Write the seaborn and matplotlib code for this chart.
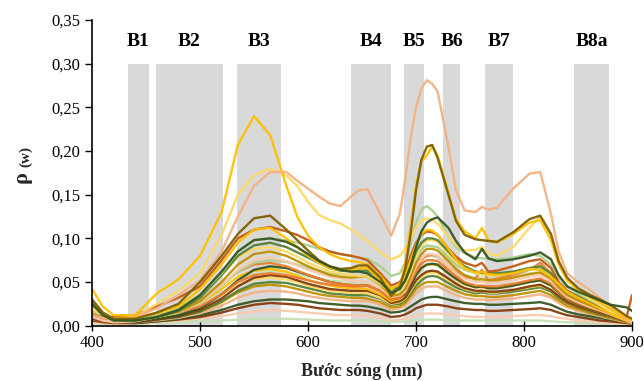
import numpy as np
import pandas as pd
import matplotlib
matplotlib.use("Agg")
import matplotlib.pyplot as plt
from matplotlib.ticker import FuncFormatter, MultipleLocator
import seaborn as sns

# Wavelength grid (nm) shared by every reflectance spectrum
wavelength = [400, 410, 420, 440, 460, 480, 500, 520, 535, 550,
              565, 580, 590, 600, 610, 620, 630, 640, 647, 655,
              667, 677, 685, 690, 695, 700, 705, 710, 715, 720,
              730, 737, 745, 755, 761, 767, 775, 790, 805, 815,
              825, 832, 840, 850, 860, 870, 880, 895, 900]

# Water-leaving reflectance spectra, one list per sampling station
s01 = [.003, .002, .002, .002, .003, .004, .005, .006, .007, .008,
       .008, .008, .0075, .007, .0065, .006, .006, .006, .006, .006,
       .005, .004, .0045, .005, .0055, .006, .007, .007, .007, .007,
       .006, .006, .006, .006, .006, .006, .006, .006, .006, .006,
       .005, .0045, .004, .0035, .003, .0025, .002, .001, .001]
s02 = [.004, .003, .002, .002, .004, .006, .008, .011, .014, .016,
       .018, .017, .016, .015, .014, .013, .012, .012, .012, .011,
       .009, .006, .007, .008, .010, .012, .013, .014, .014, .014,
       .013, .012, .011, .010, .010, .010, .010, .011, .012, .012,
       .011, .009, .008, .006, .005, .004, .003, .002, .001]
s03 = [.006, .004, .003, .003, .005, .007, .010, .015, .020, .024,
       .026, .025, .024, .022, .020, .019, .018, .018, .018, .017,
       .014, .010, .011, .013, .016, .020, .022, .024, .024, .024,
       .022, .020, .019, .018, .018, .017, .017, .018, .019, .020,
       .018, .015, .012, .010, .008, .006, .005, .003, .002]
s04 = [.022, .010, .004, .003, .005, .008, .012, .018, .024, .028,
       .030, .030, .029, .028, .026, .025, .024, .023, .023, .022,
       .019, .015, .016, .018, .022, .026, .030, .032, .033, .033,
       .030, .028, .026, .025, .025, .024, .024, .025, .026, .027,
       .024, .020, .016, .013, .011, .009, .007, .004, .003]
s05 = [.008, .005, .004, .004, .006, .009, .014, .023, .032, .038,
       .040, .039, .037, .034, .032, .030, .029, .028, .028, .028,
       .024, .018, .020, .023, .030, .037, .042, .045, .045, .045,
       .039, .035, .032, .030, .030, .029, .030, .031, .034, .036,
       .032, .026, .021, .017, .014, .011, .008, .004, .002]
s06 = [.010, .006, .004, .005, .008, .011, .016, .027, .038, .045,
       .047, .045, .042, .039, .036, .034, .033, .032, .032, .031,
       .027, .021, .022, .026, .034, .042, .047, .050, .050, .050,
       .044, .040, .036, .034, .034, .033, .033, .035, .038, .040,
       .035, .029, .023, .019, .015, .012, .009, .004, .003]
s07 = [.018, .009, .005, .004, .007, .010, .016, .028, .040, .048,
       .050, .049, .046, .043, .040, .037, .036, .035, .035, .035,
       .031, .024, .025, .029, .037, .046, .052, .056, .057, .056,
       .049, .044, .040, .037, .038, .037, .037, .039, .042, .044,
       .039, .032, .026, .021, .017, .013, .010, .005, .003]
s08 = [.012, .008, .006, .007, .011, .015, .022, .035, .047, .053,
       .055, .053, .050, .046, .043, .040, .039, .038, .038, .037,
       .032, .025, .027, .031, .040, .050, .056, .060, .061, .060,
       .052, .047, .042, .039, .040, .038, .038, .041, .044, .046,
       .041, .034, .027, .022, .018, .014, .011, .005, .003]
s09 = [.008, .005, .004, .004, .007, .011, .018, .031, .045, .055,
       .058, .056, .052, .048, .045, .042, .041, .040, .040, .040,
       .035, .026, .028, .032, .042, .052, .058, .062, .063, .062,
       .054, .048, .043, .040, .040, .039, .039, .041, .045, .047,
       .041, .034, .027, .022, .018, .014, .011, .005, .003]
s10 = [.016, .010, .007, .007, .010, .014, .022, .037, .050, .059,
       .062, .061, .059, .056, .054, .052, .051, .050, .050, .049,
       .044, .036, .039, .045, .057, .070, .077, .080, .080, .078,
       .068, .062, .058, .055, .055, .054, .055, .057, .060, .061,
       .054, .045, .036, .030, .024, .019, .014, .006, .004]
s11 = [.015, .009, .006, .007, .012, .017, .026, .042, .056, .063,
       .065, .062, .057, .052, .049, .046, .044, .043, .043, .042,
       .036, .028, .031, .036, .047, .058, .066, .070, .070, .069,
       .060, .053, .047, .044, .044, .043, .043, .046, .050, .052,
       .046, .038, .030, .025, .020, .016, .012, .006, .004]
s12 = [.020, .010, .005, .005, .008, .012, .020, .036, .052, .064,
       .068, .066, .062, .058, .054, .050, .048, .046, .046, .046,
       .040, .030, .032, .036, .046, .058, .066, .070, .071, .070,
       .060, .054, .048, .044, .045, .043, .043, .046, .050, .052,
       .046, .038, .030, .025, .020, .016, .012, .006, .004]
s13 = [.012, .008, .006, .006, .010, .015, .022, .036, .050, .058,
       .060, .058, .055, .052, .049, .047, .046, .045, .045, .046,
       .040, .030, .033, .038, .052, .066, .076, .080, .081, .080,
       .068, .061, .056, .054, .064, .052, .054, .058, .064, .072,
       .060, .046, .036, .030, .024, .019, .014, .006, .004]
s14 = [.014, .008, .006, .007, .012, .018, .028, .046, .062, .070,
       .072, .068, .063, .058, .054, .050, .048, .047, .046, .046,
       .040, .030, .032, .038, .050, .062, .071, .075, .075, .074,
       .064, .057, .050, .046, .046, .045, .045, .048, .052, .054,
       .048, .039, .031, .026, .021, .017, .013, .006, .004]
s15 = [.018, .010, .006, .006, .010, .015, .026, .045, .062, .072,
       .075, .073, .070, .066, .063, .060, .059, .058, .057, .057,
       .050, .040, .043, .050, .065, .080, .088, .092, .091, .090,
       .078, .070, .064, .060, .059, .058, .058, .060, .064, .066,
       .058, .047, .038, .031, .026, .021, .016, .007, .004]
s16 = [.010, .006, .004, .005, .010, .016, .027, .046, .064, .075,
       .078, .074, .069, .064, .060, .056, .054, .052, .051, .050,
       .043, .033, .035, .040, .054, .068, .077, .082, .082, .080,
       .068, .060, .054, .050, .050, .049, .050, .052, .056, .058,
       .051, .042, .033, .027, .022, .018, .013, .006, .004]
s17 = [.022, .012, .006, .006, .010, .016, .028, .050, .070, .082,
       .085, .080, .074, .068, .063, .058, .056, .055, .056, .056,
       .047, .034, .036, .042, .056, .072, .082, .088, .088, .086,
       .074, .065, .058, .053, .053, .052, .052, .055, .059, .061,
       .054, .044, .035, .029, .024, .019, .015, .007, .004]
s18 = [.020, .012, .008, .009, .015, .022, .035, .058, .078, .088,
       .090, .085, .079, .072, .067, .062, .060, .058, .057, .056,
       .048, .038, .041, .048, .063, .080, .091, .098, .098, .096,
       .082, .073, .066, .060, .059, .058, .058, .061, .066, .068,
       .060, .049, .040, .033, .027, .021, .016, .007, .004]
s19 = [.028, .014, .007, .006, .010, .017, .032, .058, .080, .092,
       .095, .090, .084, .078, .072, .066, .063, .062, .063, .063,
       .055, .042, .044, .052, .067, .085, .095, .100, .100, .098,
       .085, .076, .068, .062, .061, .060, .060, .062, .066, .068,
       .060, .049, .040, .034, .028, .022, .018, .008, .005]
s20 = [.030, .015, .008, .008, .012, .020, .035, .060, .085, .098,
       .100, .098, .095, .092, .088, .085, .082, .080, .078, .077,
       .068, .057, .060, .072, .095, .118, .133, .137, .132, .125,
       .102, .090, .083, .078, .077, .077, .076, .078, .082, .080,
       .070, .055, .045, .037, .030, .024, .018, .007, .004]
s21 = [.012, .010, .010, .012, .022, .032, .045, .075, .100, .110,
       .113, .108, .104, .098, .090, .085, .082, .080, .078, .075,
       .060, .046, .050, .060, .080, .095, .104, .108, .107, .104,
       .088, .079, .072, .068, .072, .062, .063, .068, .074, .076,
       .066, .050, .040, .032, .026, .020, .014, .010, .035]
s22 = [.020, .012, .008, .010, .025, .040, .060, .104, .150, .172,
       .180, .172, .160, .142, .127, .121, .117, .110, .104, .097,
       .084, .076, .080, .088, .100, .112, .120, .123, .121, .117,
       .102, .092, .086, .087, .090, .083, .080, .090, .112, .125,
       .100, .075, .052, .040, .031, .024, .016, .006, .004]
s23 = [.042, .022, .012, .012, .037, .053, .080, .130, .207, .240,
       .218, .160, .125, .103, .090, .082, .077, .074, .073, .070,
       .057, .042, .048, .058, .075, .092, .105, .110, .109, .104,
       .088, .076, .066, .061, .062, .059, .058, .060, .065, .064,
       .056, .048, .039, .032, .026, .020, .014, .006, .004]
s24 = [.012, .009, .008, .010, .020, .035, .052, .085, .125, .160,
       .176, .176, .166, .157, .148, .140, .137, .148, .155, .156,
       .128, .103, .128, .168, .215, .250, .272, .281, .277, .268,
       .205, .155, .132, .130, .136, .133, .135, .157, .174, .176,
       .128, .085, .060, .050, .042, .032, .022, .006, .003]
s25 = [.025, .012, .008, .009, .014, .022, .042, .070, .095, .110,
       .112, .100, .090, .080, .072, .066, .064, .064, .066, .066,
       .052, .033, .045, .070, .115, .160, .188, .195, .205, .195,
       .152, .122, .108, .100, .112, .098, .095, .105, .118, .121,
       .098, .070, .052, .042, .034, .027, .020, .009, .006]
s26 = [.030, .015, .008, .008, .015, .025, .050, .080, .105, .123,
       .126, .110, .098, .086, .075, .068, .065, .066, .069, .069,
       .055, .034, .045, .065, .105, .155, .190, .205, .207, .192,
       .150, .120, .104, .099, .098, .097, .096, .107, .122, .126,
       .105, .074, .055, .043, .036, .030, .024, .011, .008]
s27 = [.025, .012, .006, .006, .010, .018, .035, .062, .085, .098,
       .100, .096, .090, .082, .074, .068, .064, .062, .062, .060,
       .050, .038, .042, .052, .068, .090, .108, .118, .122, .124,
       .112, .097, .084, .076, .088, .077, .074, .076, .080, .084,
       .076, .058, .045, .039, .034, .029, .024, .021, .017]

spectra = [s01, s02, s03, s04, s05, s06, s07, s08, s09, s10, s11, s12, s13, s14,
           s15, s16, s17, s18, s19, s20, s21, s22, s23, s24, s25, s26, s27]
colors = ["#C5E0B4", "#F8CBAD", "#843C0C", "#375623", "#F4B183", "#BF9000", "#548235",
          "#FFD966", "#843C0C", "#C5E0B4", "#FFC000", "#375623", "#ED7D31", "#ED7D31",
          "#A9D18E", "#F8CBAD", "#BF9000", "#FFD966", "#548235", "#A9D18E", "#C55A11",
          "#FFD966", "#FFC000", "#F4B183", "#FFC000", "#7F6000", "#375623"]

# Sentinel-2 band windows (nm) and labels
band_names = ["B1", "B2", "B3", "B4", "B5", "B6", "B7", "B8a"]
band_start = [433, 459, 534, 640, 689, 725, 764, 846]
band_end = [453, 521, 575, 677, 707, 741, 790, 879]

records = []
for i, s in enumerate(spectra):
    for w, v in zip(wavelength, s):
        records.append({"wl": w, "rho": v, "station": f"T{i + 1:02d}"})
df = pd.DataFrame(records)

sns.set_theme(style="white")
plt.rcParams["font.family"] = ["Liberation Serif", "DejaVu Serif"]

fig = plt.figure(figsize=(6.44, 3.81), dpi=100)
ax = fig.add_axes([0.1429, 0.1451, 0.8385, 0.8024])

for name, a, b in zip(band_names, band_start, band_end):
    ax.axvspan(a, b, ymin=0, ymax=0.30 / 0.35, color="#D9D9D9", lw=0, zorder=0)
    ax.text((a + b) / 2, 0.325, name, ha="center", va="center",
            fontsize=14, fontweight="bold", color="black")

sns.lineplot(data=df, x="wl", y="rho", hue="station", palette=colors,
             legend=False, linewidth=1.7, alpha=0.95, sort=False, ax=ax, zorder=2)

ax.set_xlim(400, 900)
ax.set_ylim(0, 0.35)
ax.xaxis.set_major_locator(MultipleLocator(100))
ax.yaxis.set_major_locator(MultipleLocator(0.05))
ax.yaxis.set_major_formatter(FuncFormatter(lambda v, p: f"{v:.2f}".replace(".", ",")))
ax.tick_params(axis="both", labelsize=12, colors="black")
ax.tick_params(axis="y", direction="out", length=5, width=1, left=True)
ax.tick_params(axis="x", direction="inout", length=7, width=1, bottom=True)
for side in ["top", "right"]:
    ax.spines[side].set_visible(False)
for side in ["left", "bottom"]:
    ax.spines[side].set_color("black")
    ax.spines[side].set_linewidth(1.2)

ax.set_xlabel("Bước sóng (nm)", fontsize=13, fontweight="bold", labelpad=8)
ax.set_ylabel("")
fig.text(0.034, 0.535, "ρ", rotation=90, ha="center", va="center",
         fontsize=16, fontweight="bold")
fig.text(0.040, 0.588, "(w)", rotation=90, ha="center", va="center",
         fontsize=11, fontweight="bold")

fig.savefig("out.png", dpi=100)
